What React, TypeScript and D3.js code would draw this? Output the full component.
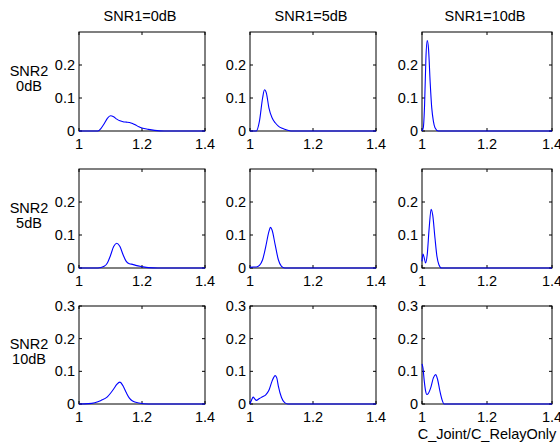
import React from "react";
import * as d3 from "d3";

// column / row headers
const colTitles = ["SNR1=0dB", "SNR1=5dB", "SNR1=10dB"];
const rowTitles = [["SNR2", "0dB"], ["SNR2", "5dB"], ["SNR2", "10dB"]];
const xTicks = [1, 1.2, 1.4];
const yTicksTop = [0, 0.1, 0.2];
const yTicksBottom = [0, 0.1, 0.2, 0.3];
const xLabel = "C_Joint/C_RelayOnly";

// density curves, [x, y] pairs (row = SNR2, col = SNR1)
const r0c0: [number, number][] = [
  [1, 0], [1.06, 0], [1.07, 0.008], [1.08, 0.022], [1.09, 0.038], [1.1, 0.046], [1.11, 0.043],
  [1.12, 0.036], [1.13, 0.031], [1.14, 0.028], [1.15, 0.027], [1.16, 0.026], [1.17, 0.023],
  [1.18, 0.018], [1.19, 0.013], [1.2, 0.009], [1.22, 0.005], [1.24, 0.002], [1.27, 0], [1.4, 0],
];
const r0c1: [number, number][] = [
  [1, 0], [1.02, 0], [1.03, 0.03], [1.04, 0.1], [1.046, 0.125], [1.052, 0.115], [1.06, 0.07],
  [1.07, 0.04], [1.08, 0.025], [1.09, 0.015], [1.1, 0.009], [1.11, 0.005], [1.13, 0], [1.4, 0],
];
const r0c2: [number, number][] = [
  [1, 0], [1.004, 0.01], [1.008, 0.08], [1.012, 0.22], [1.016, 0.274], [1.02, 0.25], [1.025, 0.15],
  [1.03, 0.07], [1.035, 0.03], [1.04, 0.01], [1.05, 0], [1.4, 0],
];
const r1c0: [number, number][] = [
  [1, 0], [1.06, 0], [1.08, 0.005], [1.09, 0.015], [1.1, 0.038], [1.11, 0.065], [1.12, 0.075],
  [1.13, 0.065], [1.14, 0.04], [1.15, 0.02], [1.16, 0.013], [1.17, 0.011], [1.18, 0.008],
  [1.2, 0.004], [1.22, 0.001], [1.25, 0], [1.4, 0],
];
const r1c1: [number, number][] = [
  [1, 0.002], [1.01, 0.003], [1.02, 0.003], [1.03, 0.008], [1.04, 0.025], [1.05, 0.065],
  [1.06, 0.11], [1.065, 0.123], [1.07, 0.115], [1.08, 0.07], [1.09, 0.025], [1.1, 0.005],
  [1.11, 0], [1.4, 0],
];
const r1c2: [number, number][] = [
  [1, 0.02], [1.003, 0.042], [1.007, 0.03], [1.011, 0.015], [1.016, 0.04], [1.022, 0.12],
  [1.028, 0.178], [1.033, 0.16], [1.04, 0.09], [1.046, 0.035], [1.052, 0.01], [1.06, 0], [1.4, 0],
];
const r2c0: [number, number][] = [
  [1, 0], [1.03, 0.001], [1.05, 0.004], [1.07, 0.011], [1.09, 0.022], [1.1, 0.033], [1.11, 0.046],
  [1.12, 0.06], [1.13, 0.067], [1.14, 0.055], [1.15, 0.035], [1.16, 0.018], [1.17, 0.009],
  [1.19, 0.003], [1.22, 0], [1.4, 0],
];
const r2c1: [number, number][] = [
  [1, 0], [1.005, 0.012], [1.01, 0.021], [1.015, 0.016], [1.02, 0.011], [1.03, 0.017], [1.04, 0.022],
  [1.05, 0.028], [1.06, 0.042], [1.07, 0.07], [1.08, 0.087], [1.085, 0.08], [1.09, 0.055],
  [1.1, 0.02], [1.11, 0.004], [1.12, 0], [1.4, 0],
];
const r2c2: [number, number][] = [
  [1, 0.123], [1.003, 0.11], [1.007, 0.07], [1.011, 0.04], [1.015, 0.029], [1.02, 0.033],
  [1.027, 0.05], [1.035, 0.08], [1.042, 0.09], [1.048, 0.075], [1.055, 0.04], [1.062, 0.012],
  [1.068, 0], [1.4, 0],
];
const curves = [
  [r0c0, r0c1, r0c2],
  [r1c0, r1c1, r1c2],
  [r2c0, r2c1, r2c2],
];

const W = 560;
const H = 442;
const cols = [
  { x0: 79, x1: 205 },
  { x0: 250, x1: 376 },
  { x0: 422, x1: 552 },
];
const rows = [
  { y0: 32, y1: 131 },
  { y0: 169, y1: 268 },
  { y0: 306, y1: 404 },
];
const font = "'Liberation Sans', Arial, Helvetica, sans-serif";
const fs = 14.5;
const tickLen = 3;

function Panel({ r, c }: { r: number; c: number }) {
  const { x0, x1 } = cols[c];
  const { y0, y1 } = rows[r];
  const x = d3.scaleLinear().domain([1, 1.4]).range([x0, x1]);
  const y = d3.scaleLinear().domain([0, 0.3]).range([y1, y0]);
  const line = d3.line<[number, number]>().x((d) => x(d[0])).y((d) => y(d[1])).curve(d3.curveMonotoneX);
  const yTicks = r === 2 ? yTicksBottom : yTicksTop;
  return (
    <g>
      {xTicks.map((t) => (
        <g key={"x" + t}>
          <line x1={x(t)} x2={x(t)} y1={y1} y2={y1 - tickLen} stroke="#000" />
          <line x1={x(t)} x2={x(t)} y1={y0} y2={y0 + tickLen} stroke="#000" />
          <text x={x(t)} y={y1 + 18} textAnchor="middle" fontSize={fs} fontFamily={font}>
            {t === 1 ? "1" : t.toFixed(1)}
          </text>
        </g>
      ))}
      {yTicks.map((t) => (
        <g key={"y" + t}>
          <line x1={x0} x2={x0 + tickLen} y1={y(t)} y2={y(t)} stroke="#000" />
          <line x1={x1} x2={x1 - tickLen} y1={y(t)} y2={y(t)} stroke="#000" />
          <text x={x0 - 4} y={y(t)} dy="0.35em" textAnchor="end" fontSize={fs} fontFamily={font}>
            {t === 0 ? "0" : t.toFixed(1)}
          </text>
        </g>
      ))}
      <rect x={x0} y={y0} width={x1 - x0} height={y1 - y0} fill="none" stroke="#000" />
      <path d={line(curves[r][c]) || ""} fill="none" stroke="#0000ff" strokeWidth={1.1} />
    </g>
  );
}

export default function App() {
  return (
    <svg width={W} height={H} style={{ position: "absolute", left: 0, top: 0, background: "#fff" }}>
      <rect width={W} height={H} fill="#fff" />
      {colTitles.map((t, c) => (
        <text key={t} x={(cols[c].x0 + cols[c].x1) / 2 - 2} y={21} textAnchor="middle" fontSize={fs} fontFamily={font}>
          {t}
        </text>
      ))}
      {rowTitles.map((lines, r) => {
        const cy = (rows[r].y0 + rows[r].y1) / 2;
        return (
          <text key={r} x={29} textAnchor="middle" fontSize={fs} fontFamily={font}>
            <tspan x={29} y={cy - 6}>{lines[0]}</tspan>
            <tspan x={29} y={cy + 9}>{lines[1]}</tspan>
          </text>
        );
      })}
      {rows.map((_, r) => cols.map((_, c) => <Panel key={r + "-" + c} r={r} c={c} />))}
      <text x={(cols[2].x0 + cols[2].x1) / 2} y={439} textAnchor="middle" fontSize={fs} fontFamily={font}>
        {xLabel}
      </text>
    </svg>
  );
}
